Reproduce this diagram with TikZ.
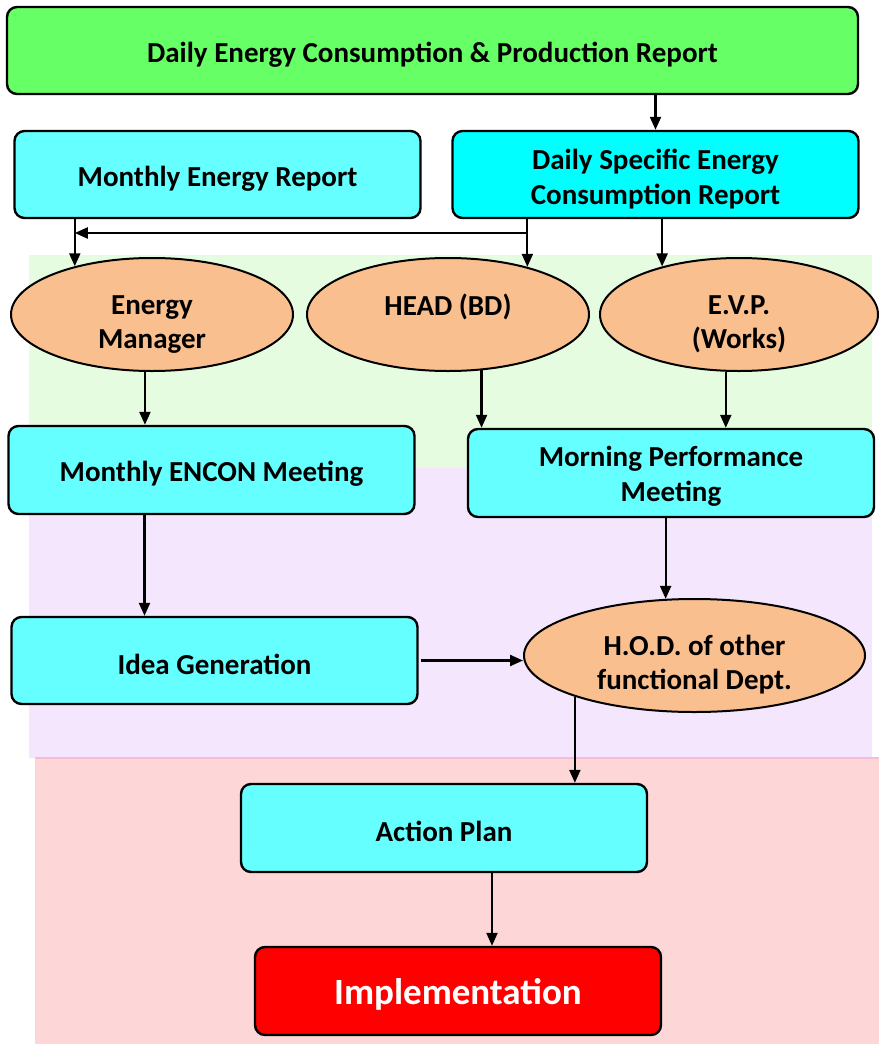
\documentclass[tikz,border=0pt]{standalone}
\usepackage{fontspec}
\setmainfont{Carlito}
\usetikzlibrary{shapes.geometric,arrows.meta}

\definecolor{boxgreen}{HTML}{66FF66}
\definecolor{boxcyan}{HTML}{66FFFF}
\definecolor{boxaqua}{HTML}{00FFFF}
\definecolor{ovalpeach}{HTML}{F9BF8F}
\definecolor{bggreen}{HTML}{E6FCE0}
\definecolor{bgviolet}{HTML}{F4E6FD}
\definecolor{bgpink}{HTML}{FDD7D7}
\definecolor{linepink}{HTML}{F7BCD5}

\begin{document}
\begin{tikzpicture}[x=1pt,y=-1pt,
    box/.style={draw, line width=2.4pt, rounded corners=10pt, fill=boxcyan,
        align=center, inner sep=0pt, minimum width=406pt, minimum height=87pt,
        text height=28pt, font=\fontsize{29}{35}\selectfont\bfseries},
    oval/.style={draw, ellipse, line width=2pt, fill=ovalpeach, align=center,
        inner sep=0pt, minimum height=113pt, text height=72pt,
        font=\fontsize{29}{34}\selectfont\bfseries},
    arr/.style={line width=2.2pt, -{Triangle[length=13pt,width=11pt]}}]
    \useasboundingbox (0,0) rectangle (879,1044);
    % background bands
    \fill[bggreen] (29,255) rectangle (872,468);
    \fill[bgviolet] (29,468) rectangle (872,758);
    \fill[bgpink] (35,758) rectangle (879,1044);
    \draw[linepink, line width=1.5pt] (35,758) -- (879,758);
    \coordinate (br) at (0,233);
    % reports
    \node[box, fill=boxgreen, minimum width=851pt] (top) at (432.5,50.5) {Daily Energy Consumption \& Production Report};
    \node[box] (mer) at (217.5,174.5) {Monthly Energy Report};
    \node[box, fill=boxaqua, text height=65pt] (dscr) at (655.5,174.5) {Daily Specific Energy\\Consumption Report};
    % people
    \node[oval, minimum width=282pt] (em) at (152,314.5) {Energy\\Manager};
    \node[oval, minimum width=282pt, text height=70pt] (hbd) at (448,314.5) {HEAD (BD)\\\mbox{}};
    \node[oval, minimum width=278pt] (evp) at (739,314.5) {E.V.P.\\(Works)};
    % meetings
    \node[box, minimum height=88pt] (mem) at (211.5,470) {Monthly ENCON Meeting};
    \node[box, minimum height=88pt, text height=61pt] (mpm) at (671,473) {Morning Performance\\Meeting};
    \node[box] (idea) at (214.5,660.5) {Idea Generation};
    \node[oval, minimum width=341pt] (hod) at (694.5,655.5) {H.O.D. of other\\functional Dept.};
    \node[box, minimum height=88pt] (act) at (444,828) {Action Plan};
    \node[box, minimum height=88pt, fill=red, text=white, text height=32pt,
        font=\fontsize{37}{42}\selectfont\bfseries] (impl) at (458,991) {Implementation};
    % connectors
    \draw[arr] (dscr.north |- top.south) -- (dscr.north);
    \foreach \s/\t in {mer/em.148, dscr/hbd.31, dscr/evp.148, mpm/hod.117.7}
        {\draw[arr] (\t |- \s.south) -- (\t);}
    \draw[arr] (hbd.31 |- br) -- (em.148 |- br);
    \foreach \s/\t in {em.263/mem, hbd.301.6/mpm, evp.257/mpm, hod.199/act}
        {\draw[arr] (\s) -- (\s |- \t.north);}
    \draw[arr] ([xshift=-67pt]mem.south) -- ([xshift=-67pt]mem.south |- idea.north);
    \draw[arr] ([xshift=2pt]idea.east) -- (idea.east -| hod.west);
    \draw[arr] ([xshift=48pt]act.south) -- ([xshift=48pt]act.south |- impl.north);
\end{tikzpicture}
\end{document}
